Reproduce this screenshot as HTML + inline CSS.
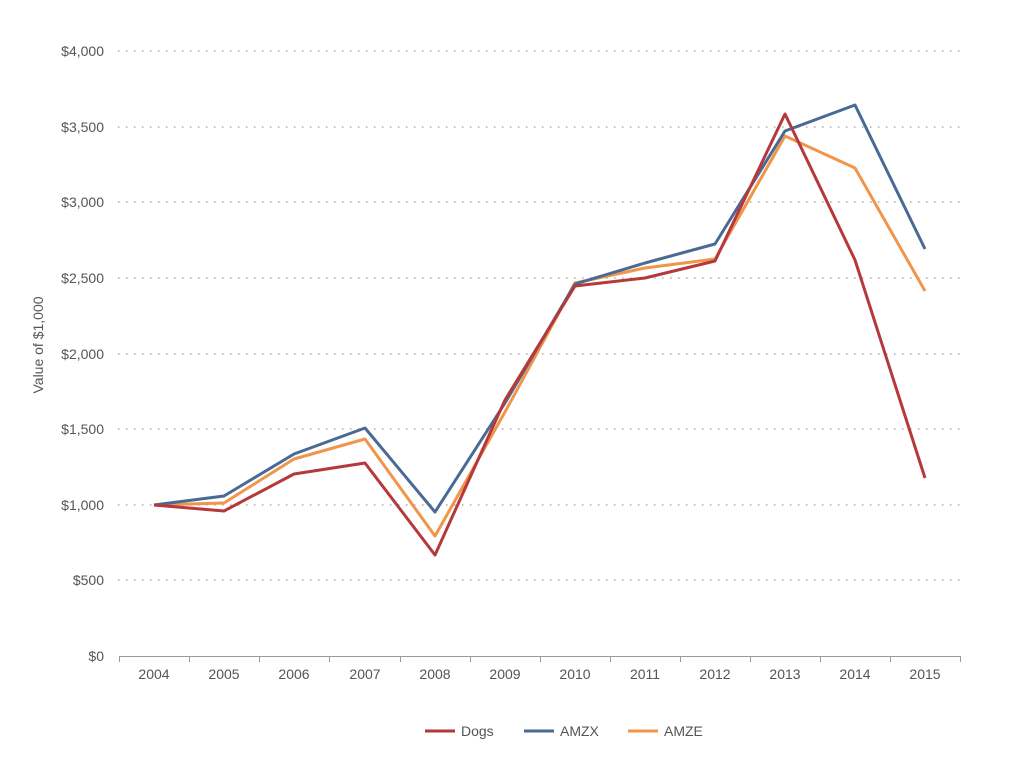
<!DOCTYPE html>
<html><head><style>body{margin:0;background:#fff}svg{display:block}text{font-family:"Liberation Sans",sans-serif;fill:#555;font-size:14px}</style></head>
<body>
<svg width="1024" height="779" viewBox="0 0 1024 779">
<g stroke="#aaa" stroke-width="1.5" stroke-dasharray="1.5 6.5">
<line x1="118" y1="51" x2="960" y2="51"/>
<line x1="118" y1="127" x2="960" y2="127"/>
<line x1="118" y1="202" x2="960" y2="202"/>
<line x1="118" y1="278" x2="960" y2="278"/>
<line x1="118" y1="354" x2="960" y2="354"/>
<line x1="118" y1="429" x2="960" y2="429"/>
<line x1="118" y1="505" x2="960" y2="505"/>
<line x1="118" y1="580" x2="960" y2="580"/>
</g>
<g stroke="#999" stroke-width="1">
<line x1="119" y1="656.5" x2="961" y2="656.5"/>
<line x1="119.5" y1="656" x2="119.5" y2="662"/><line x1="189.5" y1="656" x2="189.5" y2="662"/><line x1="259.5" y1="656" x2="259.5" y2="662"/><line x1="329.5" y1="656" x2="329.5" y2="662"/><line x1="400.5" y1="656" x2="400.5" y2="662"/><line x1="470.5" y1="656" x2="470.5" y2="662"/><line x1="540.5" y1="656" x2="540.5" y2="662"/><line x1="610.5" y1="656" x2="610.5" y2="662"/><line x1="680.5" y1="656" x2="680.5" y2="662"/><line x1="750.5" y1="656" x2="750.5" y2="662"/><line x1="820.5" y1="656" x2="820.5" y2="662"/><line x1="890.5" y1="656" x2="890.5" y2="662"/><line x1="960.5" y1="656" x2="960.5" y2="662"/>
</g>
<g text-anchor="end">
<text x="104" y="56">$4,000</text><text x="104" y="132">$3,500</text><text x="104" y="207">$3,000</text><text x="104" y="283">$2,500</text><text x="104" y="359">$2,000</text><text x="104" y="434">$1,500</text><text x="104" y="510">$1,000</text><text x="104" y="585">$500</text><text x="104" y="661">$0</text>
</g>
<g text-anchor="middle">
<text x="154" y="679">2004</text><text x="224" y="679">2005</text><text x="294" y="679">2006</text><text x="365" y="679">2007</text><text x="435" y="679">2008</text><text x="505" y="679">2009</text><text x="575" y="679">2010</text><text x="645" y="679">2011</text><text x="715" y="679">2012</text><text x="785" y="679">2013</text><text x="855" y="679">2014</text><text x="925" y="679">2015</text>
</g>
<text transform="translate(43,345) rotate(-90)" text-anchor="middle">Value of $1,000</text>
<g fill="none" stroke-width="3" stroke-linejoin="round">
<polyline stroke="#f0954a" points="154,505 224,503 294,459 365,439 435,536 505,412 575,283 645,268 715,259 785,136 855,168 925,291"/>
<polyline stroke="#4a6a96" points="154,505 224,496 294,454 365,428 435,512 505,403 575,284 645,263 715,244 785,131 855,105 925,249"/>
<polyline stroke="#b5393b" points="154,505 224,511 294,474 365,463 435,555 505,400 575,286 645,278 715,261 785,114 855,260 925,478"/>
</g>
<g stroke-width="3">
<line x1="425" y1="731" x2="455" y2="731" stroke="#b5393b"/>
<line x1="524" y1="731" x2="554" y2="731" stroke="#4a6a96"/>
<line x1="628" y1="731" x2="658" y2="731" stroke="#f0954a"/>
</g>
<text x="461" y="736">Dogs</text><text x="560" y="736">AMZX</text><text x="664" y="736">AMZE</text>
</svg>
</body></html>
